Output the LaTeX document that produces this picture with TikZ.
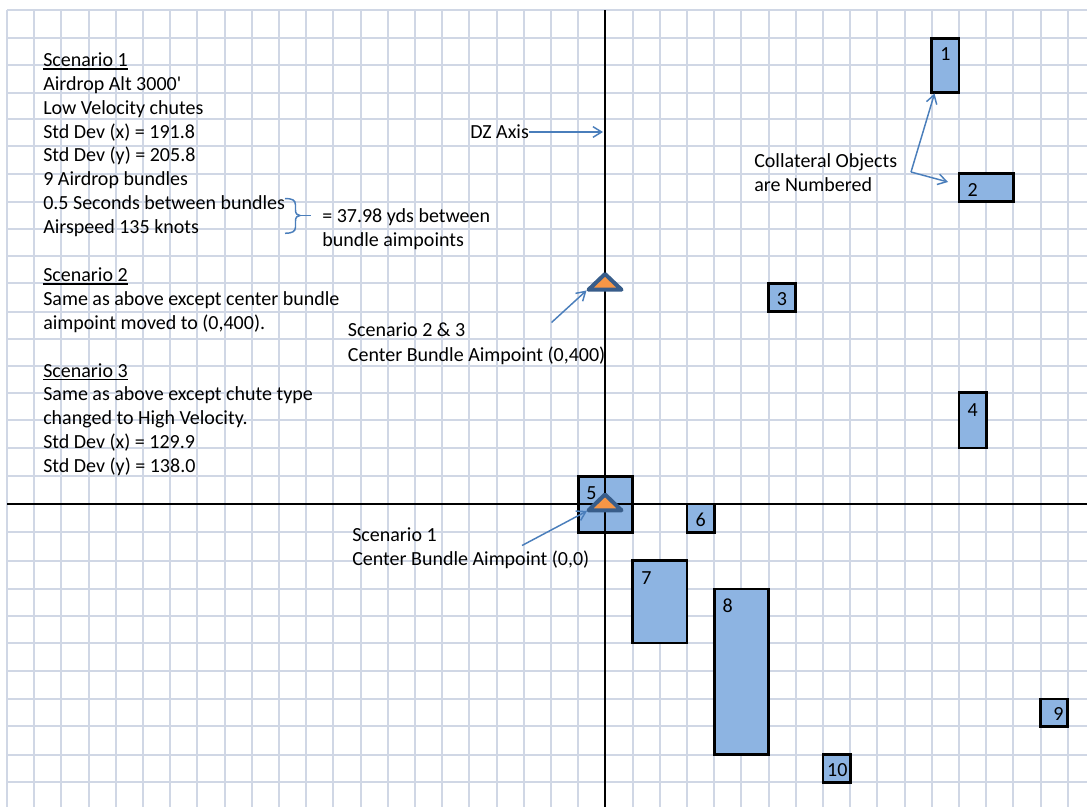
\documentclass[tikz,border=0pt]{standalone}
\usepackage{fontspec}
\setmainfont{Carlito}
\usetikzlibrary{arrows.meta}
\definecolor{gridc}{RGB}{208,215,229}
\definecolor{boxc}{RGB}{141,180,226}
\definecolor{arrc}{RGB}{74,126,187}
\definecolor{trib}{RGB}{56,93,138}
\definecolor{trif}{RGB}{247,150,70}
\newcommand{\myul}[1]{\setbox0\hbox{#1}\rlap{\rule[-2.4pt]{\wd0}{1pt}}\box0}
\begin{document}
\begin{tikzpicture}[x=0.75pt,y=-0.75pt,
  txt/.style={anchor=base west, inner sep=0pt, font=\fontsize{15}{18}\selectfont},
  num/.style={anchor=center, inner sep=0pt, font=\fontsize{15}{18}\selectfont},
  gridline/.style={draw=gridc, line width=1.5pt},
  axisline/.style={draw=black, line width=2.2pt},
  obj/.style={draw=black, fill=boxc, line width=2.2pt},
  tri/.style={draw=trib, fill=trif, line width=3pt, line join=round},
  arr/.style={draw=arrc, line width=1.1pt, -{Straight Barb[length=6.5pt, width=8pt, line width=1.1pt]}},
  bracestyle/.style={draw=arrc, line width=1.1pt}
]
\useasboundingbox (0,0) rectangle (1087,807);
\fill[white] (0,0) rectangle (1087,807);
% grid
\foreach \k in {0,...,39} \draw[gridline] ({7+27.2*\k},10) -- ({7+27.2*\k},807);
\foreach \y in {10,38.3,65,92.7,119.3,146,173.7,201.7,229.3,256,283.3,311.7,339,365.7,392.7,419.7,448,476.3,504,532.3,560.7,589,615.7,643,670.7,699,726.3,754.7,782.3}
  \draw[gridline] (7,\y) -- (1087,\y);
% collateral objects
\draw[obj] (931.8,38.3) rectangle (959,92.7);
\draw[obj] (959,173.7) rectangle (1013.4,201.7);
\draw[obj] (768.6,283.3) rectangle (795.8,311.7);
\draw[obj] (959,392.7) rectangle (986.2,448);
\draw[obj] (578.2,476.3) rectangle (632.6,532.3);
\draw[obj] (687,504) rectangle (714.2,532.3);
\draw[obj] (632.6,560.7) rectangle (687,643);
\draw[obj] (714.2,589) rectangle (768.6,754.7);
\draw[obj] (1040.6,699) rectangle (1067.8,726.3);
\draw[obj] (823,754.7) rectangle (850.2,782.3);
\node[num] (n1) at (945.4,54.5) {1};
\node[num] (n2) at (972.7,190) {2};
\node[num] (n3) at (782,299.5) {3};
\node[num] (n4) at (972.6,410) {4};
\node[num] (n5) at (591.5,493) {5};
\node[num] (n6) at (700.6,519.5) {6};
\node[num] (n7) at (646.5,578) {7};
\node[num] (n8) at (727.8,606) {8};
\node[num] (n9) at (1058.5,713.5) {9};
\node[num] (n10) at (837.3,770) {10};
% axes
\draw[axisline] (605,10) -- (605,807);
\draw[axisline] (7,504) -- (1087,504);
% aimpoint triangles
\draw[tri] (605,274) -- (621.5,289.7) -- (588.5,289.7) -- cycle;
\draw[tri] (605,494.5) -- (621.5,510.3) -- (588.5,510.3) -- cycle;
% left column text
\foreach \i/\t in {0/{\myul{Scenario 1}},1/{Airdrop Alt 3000\textquotesingle},2/{Low Velocity chutes},
  3/{Std Dev (x) = 191.8},4/{Std Dev (y) = 205.8},5/{9 Airdrop bundles},
  6/{0.5 Seconds between bundles},7/{Airspeed 135 knots},9/{\myul{Scenario 2}},
  10/{Same as above except center bundle},11/{aimpoint moved to (0,400).},
  13/{\myul{Scenario 3}},14/{Same as above except chute type},15/{changed to High Velocity.},
  16/{Std Dev (x) = 129.9},17/{Std Dev (y) = 138.0}}
  \node[txt] (L\i) at (43,{66.3+23.9*\i}) {\t};
% brace
\draw[bracestyle] (285,198.5) .. controls (292,198.5) and (295.5,200) .. (295.5,205) -- (295.5,210)
  .. controls (295.5,213.5) and (297,215.5) .. (300,215.5)
  .. controls (297,215.5) and (295.5,217.5) .. (295.5,221) -- (295.5,227)
  .. controls (295.5,231.5) and (292,233.3) .. (285,233.3);
\draw[bracestyle] (299,215.5) -- (310.5,215.5);
% other texts
\node[txt] (eq1) at (322,222.5) {= 37.98 yds between};
\node[txt] (eq2) at (322,246.5) {bundle aimpoints};
\node[txt] (s23a) at (347.7,336.7) {Scenario 2 \& 3};
\node[txt] (s23b) at (347.7,361) {Center Bundle Aimpoint (0,400)};
\node[txt] (s1a) at (352,541.5) {Scenario 1};
\node[txt] (s1b) at (352,565) {Center Bundle Aimpoint (0,0)};
\node[txt] (dz) at (470,138.5) {DZ Axis};
\node[txt] (co1) at (754,167) {Collateral Objects};
\node[txt] (co2) at (754,191) {are Numbered};
% arrows
\coordinate (dzs) at (529,132);
\coordinate (dze) at (603,132);
\coordinate (cos) at (911,172);
\coordinate (c1) at (934.5,93.5);
\coordinate (c2) at (948,182);
\coordinate (s23s) at (551.5,322.5);
\coordinate (s23e) at (586.5,290.5);
\coordinate (s1s) at (522,545.5);
\coordinate (s1e) at (587,511);
\draw[arr] (dzs) -- (dze);
\draw[arr] (cos) -- (c1);
\draw[arr] (cos) -- (c2);
\draw[arr] (s23s) -- (s23e);
\draw[arr] (s1s) -- (s1e);
\end{tikzpicture}
\end{document}
